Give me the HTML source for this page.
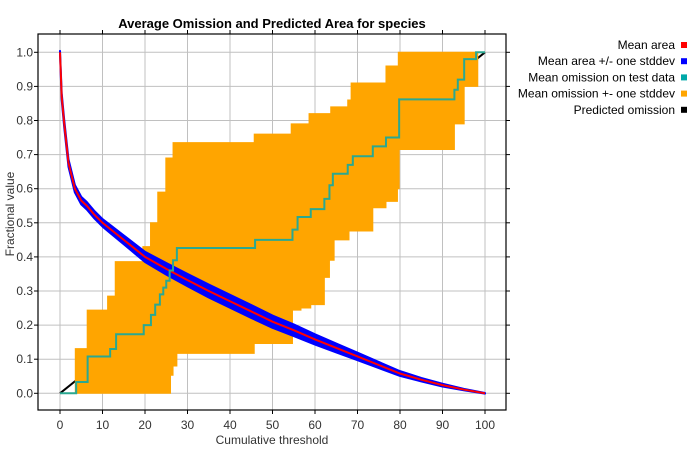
<!DOCTYPE html>
<html><head><meta charset="utf-8"><style>
body{margin:0;background:#fff;}
svg{display:block;font-family:"Liberation Sans",sans-serif;}
</style></head><body>
<svg id="chart" width="700" height="450"></svg>
<script>
const xTicks=[0,10,20,30,40,50,60,70,80,90,100];
const yTicks=[0.0,0.1,0.2,0.3,0.4,0.5,0.6,0.7,0.8,0.9,1.0];
// Mean area curve
const areaT=[0,0.4,1,2,3.5,5,6.3,8,10,12,15,20,25,30,35,40,45,50,55,60,65,70,75,80,85,90,95,100];
const areaV=[1.0,0.87,0.79,0.675,0.6,0.565,0.55,0.525,0.5,0.48,0.45,0.4,0.365,0.332,0.3,0.27,0.24,0.21,0.185,0.158,0.133,0.108,0.083,0.058,0.04,0.024,0.011,0.0];
const areaSd=[0.004,0.01,0.011,0.011,0.011,0.011,0.011,0.011,0.011,0.012,0.013,0.015,0.017,0.018,0.019,0.019,0.019,0.018,0.017,0.015,0.013,0.011,0.009,0.007,0.005,0.004,0.002,0.001];
// Mean omission on test data
const omT=[0,3.8,6.5,11.8,13.2,19.7,21.4,22.4,23.5,24.3,25,25.8,26.6,27.5,45.9,54.7,55.9,59,62.2,63.4,64.2,67.7,68.9,73.6,76.7,79.8,92.8,93.6,95.1,97.9,100];
const omV=[0,0.033,0.108,0.13,0.173,0.2,0.23,0.26,0.29,0.31,0.33,0.36,0.39,0.426,0.45,0.48,0.517,0.54,0.57,0.61,0.644,0.67,0.695,0.724,0.75,0.862,0.89,0.92,0.98,1.0,1.0];
// Omission +- stddev band
const upT=[3.6,6.4,11.2,13,19.5,21.3,23,24.9,26.6,45.7,54.4,58.6,63.7,67.7,68.5,76.7,79.6,98.3];
const upV=[0.131,0.244,0.285,0.386,0.43,0.5,0.59,0.69,0.735,0.76,0.79,0.82,0.84,0.86,0.91,0.96,1.0,1.0];
const loT=[3.6,26,26.6,27.5,45.7,54.7,56.7,59,62.2,63.4,64.5,68,73.6,76.7,79.4,79.8,92.8,95.1,98.3];
const loV=[0,0.053,0.08,0.117,0.146,0.244,0.25,0.26,0.34,0.39,0.45,0.476,0.544,0.563,0.6,0.715,0.79,0.9,0.9];

const X0=60,XS=4.25,Y0=393.3,YS=341;
const L=38,T=34,R=506,B=410;
function sx(t){return X0+XS*t;}
function sy(v){return Y0-YS*v;}
const NS="http://www.w3.org/2000/svg";
const svg=document.getElementById('chart');
function mk(tag,attrs,parent){const e=document.createElementNS(NS,tag);for(const k in attrs)e.setAttribute(k,attrs[k]);(parent||svg).appendChild(e);return e;}

const plot=mk('rect',{x:L,y:T,width:R-L,height:B-T,fill:'#fff'});



const grid=mk('g',{stroke:'#c0c0c0','stroke-width':1});


xTicks.forEach(t=>{mk('line',{x1:sx(t),x2:sx(t),y1:T,y2:B},grid);});
yTicks.forEach(v=>{mk('line',{x1:L,x2:R,y1:sy(v),y2:sy(v)},grid);});

const pred=mk('line',{x1:sx(0),y1:sy(0),x2:sx(100),y2:sy(1),stroke:'#000','stroke-width':2});



function stepPts(ts,vs,endT){const p=[];for(let i=0;i<ts.length;i++){const nx=i+1<ts.length?ts[i+1]:endT;p.push([ts[i],vs[i]]);p.push([nx,vs[i]]);}return p;}
const up=stepPts(upT,upV,upT[upT.length-1]);
const lo=stepPts(loT,loV,loT[loT.length-1]);
let d='M'+up.map(p=>sx(p[0])+','+sy(p[1])).join(' L');
d+=' L'+lo.slice().reverse().map(p=>sx(p[0])+','+sy(p[1])).join(' L')+' Z';
const band=mk('path',{d:d,fill:'#ffa500',stroke:'#ffa500','stroke-width':1});



let bd='M'+areaT.map((t,i)=>sx(t)+','+sy(areaV[i]+areaSd[i])).join(' L');
bd+=' L'+areaT.slice().reverse().map((t,j)=>{const i=areaT.length-1-j;return sx(t)+','+sy(areaV[i]-areaSd[i]);}).join(' L')+' Z';
const ab=mk('path',{d:bd,fill:'#0000ff',stroke:'#0000ff','stroke-width':2,'stroke-linejoin':'round'});



const am=mk('polyline',{points:areaT.map((t,i)=>sx(t)+','+sy(areaV[i])).join(' '),fill:'none',stroke:'#ff0000','stroke-width':2});



const om=stepPts(omT,omV,100);
const oml=mk('polyline',{points:om.map(p=>sx(p[0])+','+sy(p[1])).join(' '),fill:'none',stroke:'#2aa891','stroke-width':2});



const frame=mk('rect',{x:L,y:T,width:R-L,height:B-T,fill:'none',stroke:'#000','stroke-width':1.2});


const tk=mk('g',{stroke:'#000','stroke-width':1});
xTicks.forEach(t=>{mk('line',{x1:sx(t),x2:sx(t),y1:B,y2:B+4},tk);mk('line',{x1:sx(t),x2:sx(t),y1:T,y2:T-4},tk);
 const lb=mk('text',{x:sx(t),y:429,'text-anchor':'middle','font-size':12,fill:'#333'});lb.textContent=t;
 
 });
yTicks.forEach(v=>{mk('line',{x1:L-4,x2:L,y1:sy(v),y2:sy(v)},tk);mk('line',{x1:R,x2:R+4,y1:sy(v),y2:sy(v)},tk);
 const lb=mk('text',{x:33,y:sy(v)+4,'text-anchor':'end','font-size':12,fill:'#333'});lb.textContent=v.toFixed(1);
 
 });

const title=mk('text',{x:272,y:28,'text-anchor':'middle','font-size':13,'font-weight':'bold',fill:'#000'});title.textContent='Average Omission and Predicted Area for species';


const xt=mk('text',{x:272,y:444,'text-anchor':'middle','font-size':12,fill:'#333'});xt.textContent='Cumulative threshold';


const yt=mk('text',{x:0,y:0,'text-anchor':'middle','font-size':12,fill:'#333',transform:'translate(14,214) rotate(-90)'});yt.textContent='Fractional value';



const legNames=['Mean area','Mean area +/- one stddev','Mean omission on test data','Mean omission +- one stddev','Predicted omission'];
const legColors=['#ff0000','#0000ff','#00a8a8','#ffa500','#000000'];
legNames.forEach((n,i)=>{const y=45+16.2*i;
 const g=mk('g',{});
 
 
 const tx=mk('text',{x:675,y:y+4,'text-anchor':'end','font-size':12,fill:'#000'},g);tx.textContent=n;
 mk('rect',{x:681,y:y-3,width:6,height:6,fill:legColors[i]},g);});
</script>
</body></html>
